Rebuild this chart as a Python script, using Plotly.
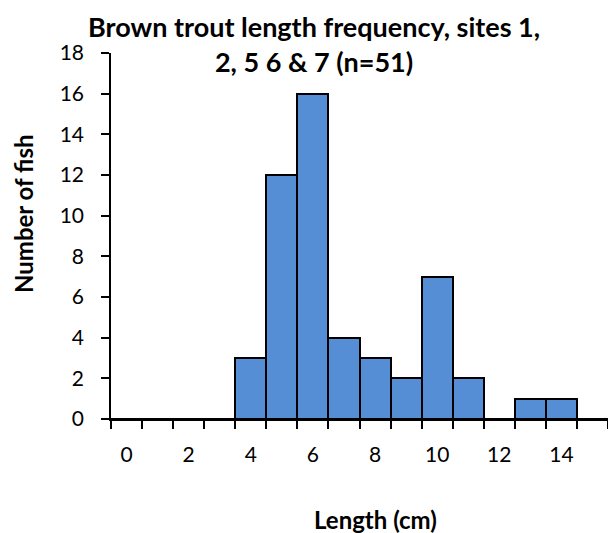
import plotly.graph_objects as go

lengths = list(range(0, 16))
counts = [0, 0, 0, 0, 3, 12, 16, 4, 3, 2, 7, 2, 0, 1, 1, 0]
x_tick_vals = [0, 2, 4, 6, 8, 10, 12, 14]
x_tick_text = ["0", "2", "4", "6", "8", "10", "12", "14"]

FONT = "Lato"
W, H = 608, 533
L, R, T, B = 111, 0, 53, 114
PW, PH = W - L - R, H - T - B


def px_x(x):
    return (x - L) / PW


def px_y(y):
    return (H - B - y) / PH


fig = go.Figure()
fig.add_trace(go.Bar(
    x=lengths, y=counts, width=1,
    marker=dict(color="#558ED5", line=dict(color="black", width=2)),
))

fig.update_layout(
    width=W, height=H,
    margin=dict(l=L, r=R, t=T, b=B),
    plot_bgcolor="white", paper_bgcolor="white",
    showlegend=False, bargap=0,
    font=dict(family=FONT, color="black", size=21),
    annotations=[
        dict(text="<b>Brown trout length frequency, sites 1,<br>2, 5 6 & 7 (n=51)</b>",
             xref="paper", yref="paper", x=px_x(314), y=px_y(44),
             xanchor="center", yanchor="middle", showarrow=False,
             font=dict(family=FONT, size=27, color="black"), align="center"),
        dict(text="<b>Length (cm)</b>",
             xref="paper", yref="paper", x=px_x(375), y=px_y(519),
             xanchor="center", yanchor="middle", showarrow=False,
             font=dict(family=FONT, size=24, color="black")),
        dict(text="<b>Number of fish</b>", textangle=-90,
             xref="paper", yref="paper", x=px_x(23), y=px_y(214),
             xanchor="center", yanchor="middle", showarrow=False,
             font=dict(family=FONT, size=24, color="black")),
    ],
)

fig.update_xaxes(
    range=[-0.5, 15.5], tickmode="array", tickvals=x_tick_vals, ticktext=x_tick_text,
    ticks="", showgrid=False, zeroline=False,
    showline=True, linecolor="black", linewidth=1.5,
    ticklabelstandoff=16,
    minor=dict(tick0=-0.5, dtick=1, ticks="outside", ticklen=8, tickcolor="black",
               tickwidth=1.5, showgrid=False),
)
fig.update_yaxes(
    range=[0, 18], dtick=2, ticks="outside", ticklen=8, tickcolor="black", tickwidth=1.5,
    showgrid=False, zeroline=False, showline=True, linecolor="black", linewidth=1.5,
    ticklabelstandoff=13,
)

fig.write_html("out.html", config={"displayModeBar": False},
               post_script="document.body.style.margin='0';")
